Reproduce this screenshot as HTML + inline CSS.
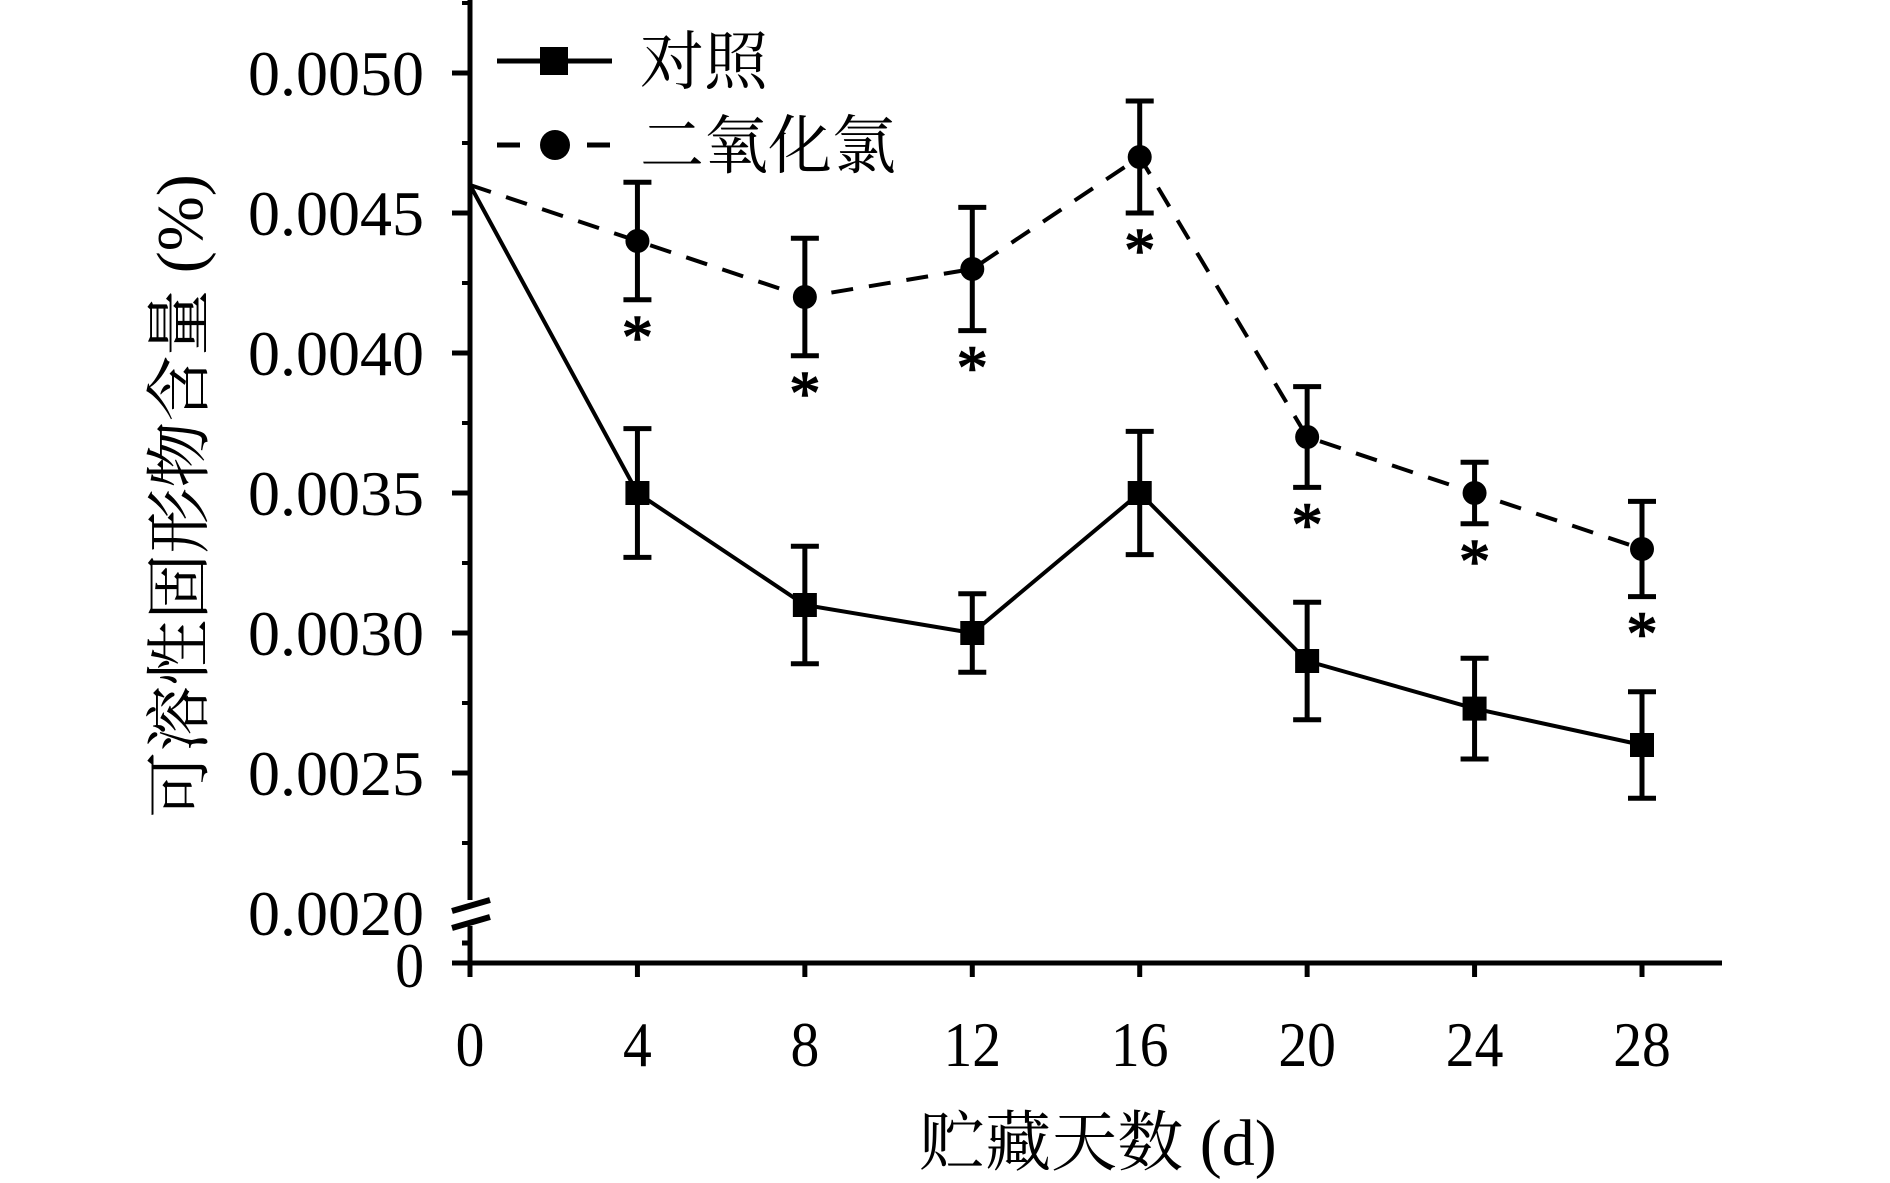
<!DOCTYPE html>
<html><head><meta charset="utf-8"><style>
html,body{margin:0;padding:0;background:#fff;}
svg{display:block;}
text{font-family:"Liberation Serif","Noto Serif CJK SC",serif;fill:#000;}
</style></head><body>
<svg id="chart" width="1890" height="1183" viewBox="0 0 1890 1183" xmlns="http://www.w3.org/2000/svg">
<g id="axes"></g>
<g id="series"></g>
<g id="legend">
 <line x1="497" y1="61" x2="612" y2="61" stroke="#000" stroke-width="5"/>
 <rect x="540" y="47" width="28" height="28" fill="#000"/>
 <text x="640" y="84" font-size="64">对照</text>
 <line x1="497" y1="145" x2="612" y2="145" stroke="#000" stroke-width="5" stroke-dasharray="23 22"/>
 <circle cx="555" cy="145" r="15" fill="#000"/>
 <text x="640" y="168" font-size="64">二氧化氯</text>
</g>
<text x="1098" y="1165" font-size="66" text-anchor="middle">贮藏天数 (d)</text>
<text transform="translate(202,496) rotate(-90)" font-size="66" text-anchor="middle">可溶性固形物含量 (%)</text>
</svg>
<script>
const days = [0,4,8,12,16,20,24,28];
const controlVals = [0.0046,0.0035,0.0031,0.0030,0.0035,0.0029,0.00273,0.0026];
const controlErr = [0,0.00023,0.00021,0.00014,0.00022,0.00021,0.00018,0.00019];
const clo2Vals = [0.0046,0.0044,0.0042,0.0043,0.0047,0.0037,0.0035,0.0033];
const clo2Err = [0,0.00021,0.00021,0.00022,0.0002,0.00018,0.00011,0.00017];
const sigMarks = [false,true,true,true,true,true,true,true];
const yTicks = [0.0020,0.0025,0.0030,0.0035,0.0040,0.0045,0.0050];
const yTickLabels = ["0.0020","0.0025","0.0030","0.0035","0.0040","0.0045","0.0050"];
const xTickLabels = ["0","4","8","12","16","20","24","28"];

const NS="http://www.w3.org/2000/svg";
const X0=470, XPD=(1642-470)/28, Y50=73, YPER=140/0.0005, Y0=963;
const xs=d=>X0+d*XPD;
const ys=v=>Y50+(0.0050-v)*YPER;
function mk(tag,attrs,parent){const e=document.createElementNS(NS,tag);for(const k in attrs)e.setAttribute(k,attrs[k]);parent.appendChild(e);return e;}
const axes=document.getElementById('axes'), ser=document.getElementById('series');

let e=mk('line',{x1:X0,y1:0,x2:X0,y2:Y0+12,stroke:'#000','stroke-width':5},axes);


e=mk('line',{x1:452,y1:Y0,x2:1722,y2:Y0,stroke:'#000','stroke-width':5},axes);


mk('rect',{x:X0-6,y:900,width:12,height:26,fill:'#fff'},axes);
e=mk('line',{x1:452,y1:911,x2:490,y2:900,stroke:'#000','stroke-width':6},axes);


e=mk('line',{x1:452,y1:928,x2:490,y2:917,stroke:'#000','stroke-width':6},axes);


mk('line',{x1:462,y1:943,x2:X0,y2:943,stroke:'#000','stroke-width':5},axes);

yTicks.forEach((v,i)=>{
  const y=ys(v);
  if(i>0){const t=mk('line',{x1:452,y1:y,x2:X0,y2:y,stroke:'#000','stroke-width':5},axes);
  
  }
  if(i>0){const m=mk('line',{x1:462,y1:y+70,x2:X0,y2:y+70,stroke:'#000','stroke-width':4},axes);
  
  }
  const l=mk('text',{x:0,y:0,'font-size':64,'text-anchor':'end',transform:`translate(424,${y+22}) scale(1,1)`},axes);
  l.textContent=yTickLabels[i];
  
  
});
mk('line',{x1:462,y1:Y50-70,x2:X0,y2:Y50-70,stroke:'#000','stroke-width':4},axes);
e=mk('text',{x:0,y:0,'font-size':64,'text-anchor':'end',transform:`translate(424,${Y0+24}) scale(0.9,1)`},axes);
e.textContent='0';



days.forEach((d,i)=>{
  const x=xs(d);
  const t=mk('line',{x1:x,y1:Y0,x2:x,y2:Y0+14,stroke:'#000','stroke-width':5},axes);
  
  
  const l=mk('text',{x:0,y:0,'font-size':64,'text-anchor':'middle',transform:`translate(${x},1066) scale(0.9,1)`},axes);
  l.textContent=xTickLabels[i];
  
  
});

function series(vals,errs,name,dash,shape){
  const pts=days.map((d,i)=>xs(d)+','+ys(vals[i])).join(' ');
  const p=mk('polyline',{points:pts,fill:'none',stroke:'#000','stroke-width':4},ser);
  if(dash)p.setAttribute('stroke-dasharray',dash);
  
  
  days.forEach((d,i)=>{
    const x=xs(d),y=ys(vals[i]);
    if(errs[i]>0){
      const g=mk('path',{d:`M${x},${ys(vals[i]+errs[i])}V${ys(vals[i]-errs[i])}M${x-14},${ys(vals[i]+errs[i])}h28M${x-14},${ys(vals[i]-errs[i])}h28`,stroke:'#000','stroke-width':5,fill:'none'},ser);
      
      
    }
    let m;
    if(i===0) return;
    if(shape==='sq') m=mk('rect',{x:x-12,y:y-12,width:24,height:24,fill:'#000'},ser);
    else m=mk('circle',{cx:x,cy:y,r:12,fill:'#000'},ser);
    
    
  });
}
series(controlVals,controlErr,'control',null,'sq');
series(clo2Vals,clo2Err,'clo2','22 16','ci');
days.forEach((d,i)=>{
  if(!sigMarks[i])return;
  const s=mk('text',{x:xs(d),y:ys(clo2Vals[i]-clo2Err[i])+58,'font-size':62,'text-anchor':'middle','stroke':'#000','stroke-width':1.5},ser);
  s.textContent='*';
  
  
});
</script>
</body></html>
